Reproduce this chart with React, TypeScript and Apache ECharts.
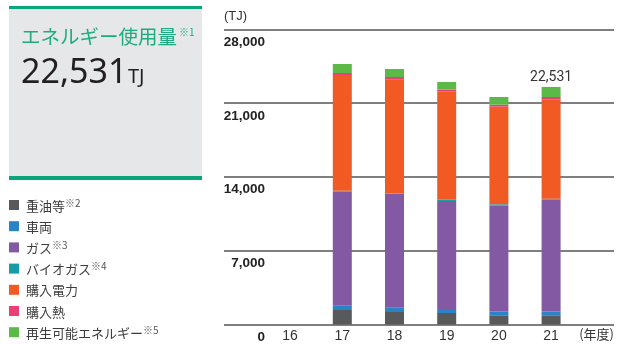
import React, { useEffect, useRef } from "react";
import * as echarts from "echarts";

const categories = ["16", "17", "18", "19", "20", "21"];
const heavyOil = [null, 1375, 1186, 1091, 873, 873];
const vehicle = [null, 408, 408, 379, 379, 379];
const gas = [null, 10813, 10803, 10244, 10016, 10585];
const biogas = [null, 95, 47, 161, 133, 95];
const purchasedPower = [null, 10974, 10775, 10206, 9257, 9390];
const purchasedHeat = [null, 190, 256, 190, 190, 256];
const renewable = [null, 854, 759, 730, 730, 953];

const seriesNames = ["重油等", "車両", "ガス", "バイオガス", "購入電力", "購入熱", "再生可能エネルギー"];
const seriesNotes: Record<string, string> = { "重油等": "※2", "ガス": "※3", "バイオガス": "※4", "再生可能エネルギー": "※5" };
const seriesColors = ["#58595b", "#2a83c6", "#8459a4", "#12a0a4", "#f15a22", "#ee3f74", "#5bb947"];
const seriesData = [heavyOil, vehicle, gas, biogas, purchasedPower, purchasedHeat, renewable];

const yTicks = { min: 0, max: 28000, interval: 7000 };

const fmt = (v: number) => v.toLocaleString("en-US");

export default function App() {
  const ref = useRef<HTMLDivElement>(null);
  useEffect(() => {
    if (!ref.current) return;
    const chart = echarts.init(ref.current, null, { renderer: "svg" });
    const last = categories.length - 1;
    const total = seriesData.reduce((s, arr) => s + (arr[last] as number), 0);
    const green = "#0aa57b";
    const cjk = "'Noto Sans CJK JP', 'Noto Sans', sans-serif";
    const num = "'Liberation Sans', Arial, sans-serif";

    const series: any[] = seriesNames.map((name, i) => ({
      name,
      type: "bar",
      stack: "total",
      xAxisIndex: 1,
      yAxisIndex: 1,
      barWidth: 19,
      itemStyle: { color: seriesColors[i] },
      data: seriesData[i].map((v, j) => {
        if (v === null) return "-";
        if (i === seriesNames.length - 1 && j === last) {
          return {
            value: v,
            label: {
              show: true,
              position: "top",
              distance: 4,
              formatter: () => fmt(total),
              fontSize: 14,
              color: "#333",
              fontFamily: "Roboto, sans-serif",
            },
          };
        }
        return v;
      }),
    }));

    chart.setOption({
      animation: false,
      legend: {
        orient: "vertical",
        left: 9,
        top: 197,
        padding: 0,
        itemGap: 6.7,
        itemWidth: 10,
        itemHeight: 10,
        icon: "rect",
        selectedMode: false,
        data: seriesNames,
        formatter: (name: string) => `{n|${name}}{s|${seriesNotes[name] || ""}}`,
        textStyle: {
          rich: {
            n: { fontSize: 13, color: "#3c3c3c", fontFamily: cjk, lineHeight: 16, padding: [0, 0, 0, 2] },
            s: { fontSize: 10, color: "#555", fontFamily: cjk, lineHeight: 11, verticalAlign: "top" },
          },
        },
      },
      graphic: [
        { type: "rect", shape: { x: 9, y: 6, width: 193, height: 174 }, style: { fill: "#e6e7e9" }, silent: true },
        { type: "rect", shape: { x: 9, y: 6, width: 193, height: 3 }, style: { fill: green }, silent: true },
        { type: "rect", shape: { x: 9, y: 176, width: 193, height: 4 }, style: { fill: green }, silent: true },
        {
          type: "text", x: 21, y: 35,
          style: { text: "エネルギー使用量", fill: "#1dab80", fontSize: 19.5, fontFamily: cjk, verticalAlign: "middle" },
        },
        {
          type: "text", x: 179, y: 31,
          style: { text: "※1", fill: "#1dab80", fontSize: 10, fontFamily: cjk, verticalAlign: "middle" },
        },
        {
          type: "text", x: 21, y: 70,
          style: { text: fmt(total), fill: "#231f20", fontSize: 34, fontFamily: "'Noto Sans', sans-serif", verticalAlign: "middle" },
        },
        {
          type: "text", x: 128, y: 75,
          style: { text: "TJ", fill: "#231f20", fontSize: 20, fontFamily: "'Noto Sans', sans-serif", verticalAlign: "middle" },
        },
      ],
      grid: [
        { left: 224, right: 8, top: 29.3, bottom: 19.5 },
        { left: 264, width: 313.2, top: 29.3, bottom: 19.5 },
      ],
      xAxis: [
        {
          gridIndex: 0, type: "category", data: [""],
          axisLine: { show: false }, axisTick: { show: false }, axisLabel: { show: false },
        },
        {
          gridIndex: 1, type: "category", data: categories,
          axisLine: { show: false }, axisTick: { show: false },
          axisLabel: { fontSize: 14, color: "#333", margin: 3, fontFamily: num },
          name: "(年度)", nameLocation: "end", nameGap: 2,
          nameTextStyle: { fontSize: 13, color: "#333", fontFamily: cjk, align: "left", verticalAlign: "top", padding: [2, 0, 0, 0] },
        },
      ],
      yAxis: [
        {
          gridIndex: 0, type: "value", min: yTicks.min, max: yTicks.max, interval: yTicks.interval,
          axisLine: { show: false }, axisTick: { show: false },
          splitLine: { show: true, lineStyle: { color: "#555", width: 1.5 } },
          axisLabel: {
            inside: true, margin: 41, align: "right", verticalAlign: "top", padding: [5, 0, 0, 0],
            fontSize: 13.5, fontWeight: "bold", color: "#222", fontFamily: num,
            formatter: (v: number) => fmt(v),
          },
          name: "(TJ)", nameLocation: "end", nameGap: 14,
          nameTextStyle: { fontSize: 13, color: "#333", fontFamily: num, align: "left", verticalAlign: "middle" },
        },
        {
          gridIndex: 1, type: "value", min: yTicks.min, max: yTicks.max, interval: yTicks.interval, show: false,
          splitLine: { show: false },
        },
      ],
      series,
    });
    return () => chart.dispose();
  }, []);
  return <div ref={ref} style={{ position: "fixed", left: 0, top: 0, width: 622, height: 344 }} />;
}
